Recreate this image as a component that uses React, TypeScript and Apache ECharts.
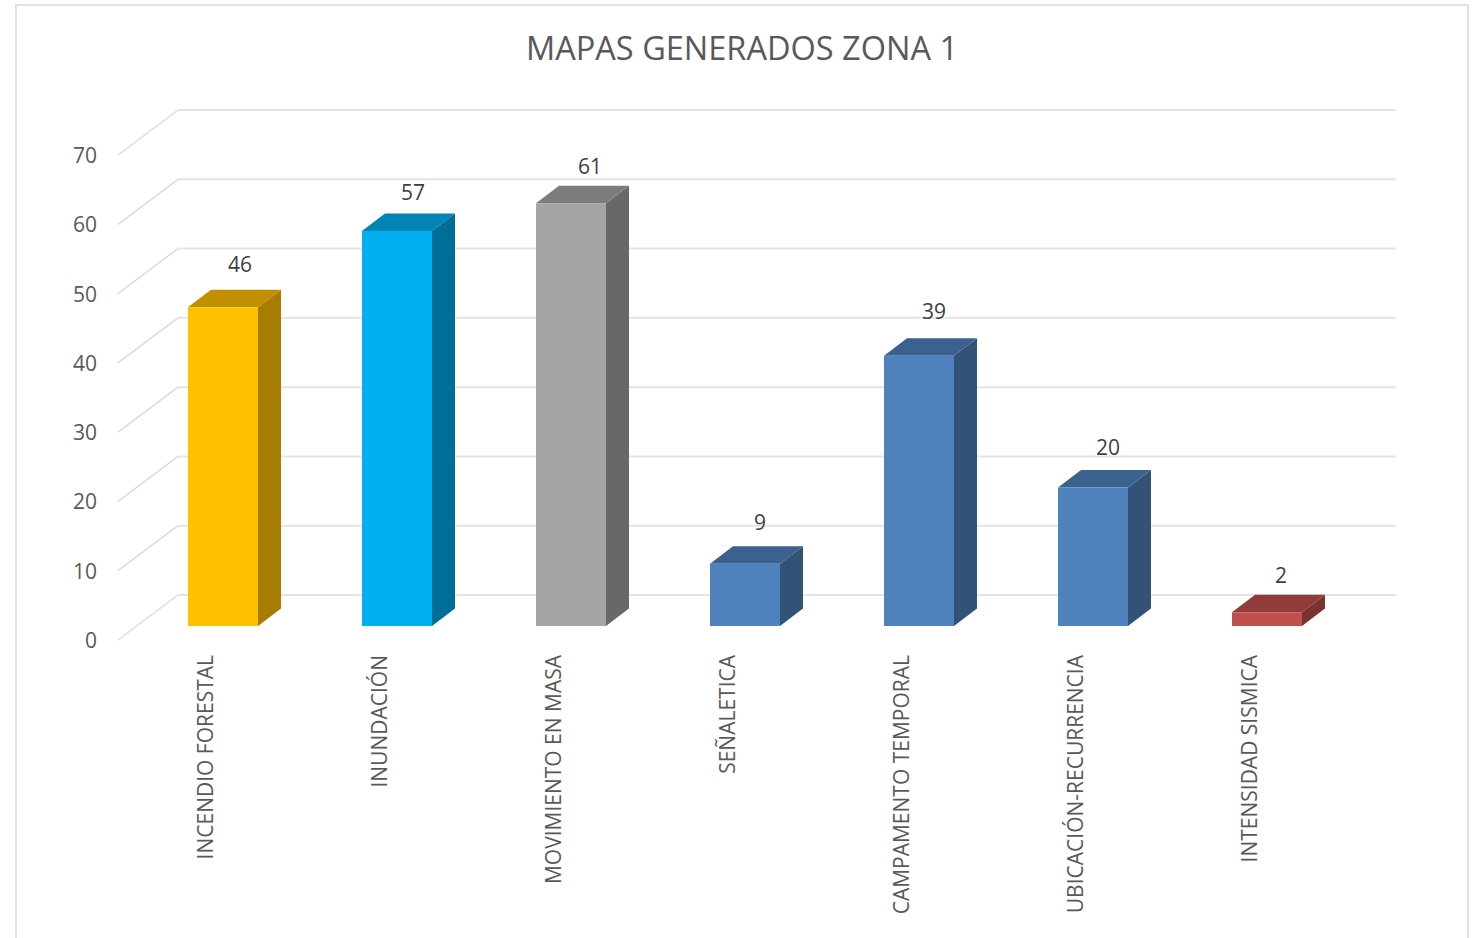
import React, { useEffect, useRef } from "react";
import * as echarts from "echarts";

const titleText = "MAPAS GENERADOS ZONA 1";
const categories = [
  "INCENDIO FORESTAL",
  "INUNDACIÓN",
  "MOVIMIENTO EN MASA",
  "SEÑALETICA",
  "CAMPAMENTO TEMPORAL",
  "UBICACIÓN-RECURRENCIA",
  "INTENSIDAD SISMICA",
];
const values = [46, 57, 61, 9, 39, 20, 2];
const wallTicks = [0, 10, 20, 30, 40, 50, 60, 70];

const frontColors = ["#FFC000", "#00B0F0", "#A5A5A5", "#4F81BD", "#4F81BD", "#4F81BD", "#C0504D"];
const topColors = ["#C09000", "#0085B5", "#7C7C7C", "#3B618E", "#3B618E", "#3B618E", "#903C3A"];
const sideColors = ["#A67D00", "#006F97", "#686868", "#325277", "#325277", "#325277", "#7A3331"];
const labelNudgeX = [17, 16, 19, 15, 15, 15, 14];
const labelNudgeY = [-26, -22, -20, -24, -27, -23, -20];

const FONT = "'Open Sans', sans-serif";
const WALL_DX = 60;
const WALL_DY = -45;
const BAR_OFF_X = 18;
const BAR_OFF_Y = -14;
const DEPTH_X = 23;
const DEPTH_Y = -17.5;
const BAR_W = 70;

function renderWall(params: any, api: any) {
  const cs = params.coordSys;
  const y = api.coord([0, api.value(1)])[1];
  const x0 = cs.x;
  const x1 = cs.x + cs.width + WALL_DX;
  return {
    type: "group",
    children: [
      {
        type: "line",
        shape: { x1: x0, y1: y, x2: x0 + WALL_DX, y2: y + WALL_DY },
        style: { stroke: "#dcdcdc", lineWidth: 1.5 },
      },
      {
        type: "line",
        shape: { x1: x0 + WALL_DX, y1: y + WALL_DY, x2: x1, y2: y + WALL_DY },
        style: { stroke: "#e4e4e4", lineWidth: 2 },
      },
    ],
  };
}

function renderBar(params: any, api: any) {
  const i = params.dataIndex;
  const base = api.coord([i, 0]);
  const top = api.coord([i, api.value(1)]);
  const l = base[0] + BAR_OFF_X - BAR_W / 2;
  const r = l + BAR_W;
  const b = base[1] + BAR_OFF_Y;
  const t = top[1] + BAR_OFF_Y;
  return {
    type: "group",
    children: [
      {
        type: "polygon",
        shape: { points: [[r, t], [r + DEPTH_X, t + DEPTH_Y], [r + DEPTH_X, b + DEPTH_Y], [r, b]] },
        style: { fill: sideColors[i] },
      },
      {
        type: "polygon",
        shape: { points: [[l, t], [l + DEPTH_X, t + DEPTH_Y], [r + DEPTH_X, t + DEPTH_Y], [r, t]] },
        style: { fill: topColors[i] },
      },
      {
        type: "rect",
        shape: { x: l, y: t, width: BAR_W, height: b - t },
        style: { fill: frontColors[i] },
      },
      {
        type: "text",
        style: {
          x: l + BAR_W / 2 + labelNudgeX[i],
          y: t + DEPTH_Y + labelNudgeY[i],
          text: String(api.value(1)),
          fill: "#404040",
          font: `21px ${FONT}`,
          align: "center",
          verticalAlign: "middle",
        },
      },
    ],
  };
}

export default function App() {
  const ref = useRef<HTMLDivElement>(null);
  useEffect(() => {
    document.body.style.margin = "0";
    const chart = echarts.init(ref.current!, null, { renderer: "svg" });
    chart.setOption({
      animation: false,
      backgroundColor: "#ffffff",
      title: {
        text: titleText,
        left: 737,
        top: 26,
        textAlign: "center",
        textStyle: { fontFamily: FONT, fontSize: 32.5, fontWeight: "normal", color: "#595959" },
      },
      grid: { left: 118, top: 155, width: 1218, height: 485 },
      xAxis: {
        type: "category",
        data: categories,
        axisLine: { show: false },
        axisTick: { show: false },
        axisLabel: {
          rotate: 90,
          interval: 0,
          margin: 15,
          fontFamily: FONT,
          fontSize: 21,
          color: "#595959",
        },
      },
      yAxis: {
        type: "value",
        min: 0,
        max: 70,
        interval: 10,
        axisLine: { show: false },
        axisTick: { show: false },
        splitLine: { show: false },
        axisLabel: {
          margin: 21,
          fontFamily: FONT,
          fontSize: 21,
          color: "#595959",
          padding: [0, 0, 3, 0],
        },
      },
      series: [
        {
          type: "custom",
          name: "wall",
          silent: true,
          clip: false,
          z: 1,
          renderItem: renderWall,
          data: wallTicks.map((v) => [0, v]),
          encode: { x: 0, y: 1 },
        },
        {
          type: "custom",
          name: "bars",
          clip: false,
          z: 2,
          renderItem: renderBar,
          data: values.map((v, i) => [i, v]),
          encode: { x: 0, y: 1 },
        },
      ],
      graphic: [
        {
          type: "polyline",
          silent: true,
          shape: { points: [[16, 938], [16, 5], [1468, 5], [1468, 938]] },
          style: { stroke: "#e2e2e2", lineWidth: 2, fill: "none" },
        },
      ],
    });
    return () => chart.dispose();
  }, []);
  return <div ref={ref} style={{ position: "absolute", left: 0, top: 0, width: 1476, height: 938 }} />;
}
